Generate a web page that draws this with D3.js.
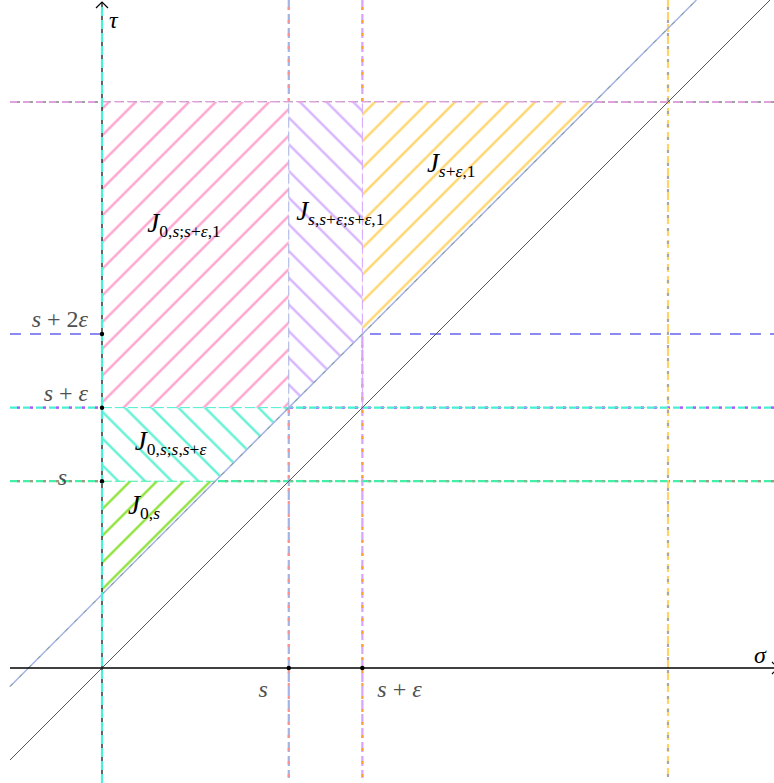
<!DOCTYPE html>
<html>
<head>
<meta charset="utf-8">
<script src="https://cdn.jsdelivr.net/npm/d3@7"></script>
<style>
html, body { margin: 0; padding: 0; background: #fff; }
svg { display: block; }
svg text { font-family: "Liberation Serif", "DejaVu Serif", serif; }
</style>
</head>
<body>
<div id="chart"></div>
<script>
// values (one unit on each axis)
const sValue = 0.33;
const epsValue = 0.13;

const xTickValues = [0.33, 0.46];
const xTickLabels = ["s", "s + ε"];
const yTickValues = [0.33, 0.46, 0.59];
const yTickLabels = ["s", "s + ε", "s + 2ε"];

const diagonalOffsets = [0, 0.13];           // tau = sigma + offset
const horizontalGuides = [0.33, 0.46, 0.59, 1];
const verticalGuides = [0, 0.33, 0.46, 1];

const regionNames = ["0,s", "0,s;s,s+ε", "0,s;s+ε,1", "s,s+ε;s+ε,1", "s+ε,1"];
const regionPolygons = [
  [[0, 0.13], [0, 0.33], [0.20, 0.33]],
  [[0, 0.33], [0, 0.46], [0.33, 0.46], [0.20, 0.33]],
  [[0, 0.46], [0, 1], [0.33, 1], [0.33, 0.46]],
  [[0.33, 0.46], [0.33, 1], [0.46, 1], [0.46, 0.59]],
  [[0.46, 0.59], [0.46, 1], [0.87, 1]]
];
const regionLabelAt = [[0.046, 0.272], [0.058, 0.385], [0.080, 0.770], [0.343, 0.792], [0.574, 0.876]];
const dotPoints = [[0, 0.33], [0, 0.46], [0, 0.59], [0.33, 0], [0.46, 0]];

// styling
const width = 774, height = 783;
const hatchColor = ["#84e028", "#55f0d0", "#ff9cca", "#d4aeff", "#ffd262"];
const hatchDir = [45, -45, 45, -45, 45];
const hatchPhase = [24, 11, 24, 11, 23];
const hGuideStyle = {
  0.33: { c: "#44f0a8", o: "#a09a80", dash: "10,3" },
  0.46: { c: "#48f0d4", o: "#c050ff", dash: "10,3" },
  0.59: { c: "#8a8af0", o: null, dash: "11,9", w: 2 },
  1: { c: "#e0a2dc", o: "#a0a0a0", dash: "9,4" }
};
const vGuideStyle = {
  0: { c: "#48f0d4", o: null, dash: "9,4" },
  0.33: { c: "#a4b2e4", o: "#ff9090", dash: "10,4" },
  0.46: { c: "#d4a4ff", o: "#ffa030", dash: "10,4" },
  1: { c: "#ffd466", o: "#a8a8a8", dash: "8,4" }
};

const x = d3.scaleLinear().domain([0, 1]).range([102, 668]);
const y = d3.scaleLinear().domain([0, 1]).range([668, 102]);
const sigmaMin = x.invert(10);
const tauMax = y.invert(0), tauMin = y.invert(778);

const svg = d3.select("#chart").append("svg")
  .attr("width", width).attr("height", height);

const defs = svg.append("defs");
const step = 26.7 / Math.SQRT2;
hatchColor.forEach((col, i) => {
  const p = defs.append("pattern")
    .attr("id", "hatch" + i)
    .attr("patternUnits", "userSpaceOnUse")
    .attr("width", step).attr("height", 10)
    .attr("x", hatchPhase[i] / Math.SQRT2 - step / 2)
    .attr("patternTransform", `rotate(${hatchDir[i]})`);
  p.append("line")
    .attr("x1", step / 2).attr("x2", step / 2)
    .attr("y1", -1).attr("y2", 11)
    .attr("stroke", col).attr("stroke-width", 2.2);
});

// helper for drawing a guide line with a coloured second dash on top
function guide(g, x1, y1, x2, y2, st, thin) {
  const w = thin ? 1 : (st.w || 2.2);
  g.append("line").attr("x1", x1).attr("y1", y1).attr("x2", x2).attr("y2", y2)
    .attr("stroke", st.c).attr("stroke-width", w).attr("stroke-dasharray", st.dash);
  if (st.o && !thin) {
    g.append("line").attr("x1", x1).attr("y1", y1).attr("x2", x2).attr("y2", y2)
      .attr("stroke", st.o).attr("stroke-width", w).attr("stroke-dasharray", "3,10")
      .attr("stroke-dashoffset", -7);
  }
}

const guides = svg.append("g");
horizontalGuides.forEach(t => guide(guides, x(sigmaMin), y(t), width, y(t), hGuideStyle[t]));
verticalGuides.filter(v => v !== 0)
  .forEach(v => guide(guides, x(v), 0, x(v), y(tauMin), vGuideStyle[v]));

// regions: white fill, hatch on top
const line = d3.line().x(d => x(d[0])).y(d => y(d[1]));
const regions = svg.append("g");
regionPolygons.forEach((poly, i) => {
  regions.append("path").attr("d", line(poly) + "Z").attr("fill", "#fff");
  regions.append("path").attr("d", line(poly) + "Z").attr("fill", `url(#hatch${i})`);
});

// thin guides through the regions (all but s+2eps)
const thinGuides = svg.append("g");
horizontalGuides.filter(t => t !== 0.59)
  .forEach(t => guide(thinGuides, x(0), y(t), x(1), y(t), hGuideStyle[t], true));
[0.33, 0.46].forEach(v => guide(thinGuides, x(v), y(0.46), x(v), y(1), vGuideStyle[v], true));

// diagonals
const diag = svg.append("g");
diagonalOffsets.forEach(c => {
  const d = [[sigmaMin, sigmaMin + c], [tauMax - c, tauMax]];
  if (c === 0) {
    diag.append("path").attr("d", line(d)).attr("stroke", "#555").attr("stroke-width", 1).attr("fill", "none");
  } else {
    diag.append("path").attr("d", line(d)).attr("stroke", "#a6b4e6").attr("stroke-width", 1.5).attr("fill", "none");
    diag.append("path").attr("d", line(d)).attr("stroke", "#7a9a7a").attr("stroke-width", 1)
      .attr("stroke-dasharray", "4,9").attr("fill", "none");
  }
});

// axes
const axes = svg.append("g");
axes.append("line").attr("x1", x(sigmaMin)).attr("x2", 778).attr("y1", y(0)).attr("y2", y(0))
  .attr("stroke", "#000").attr("stroke-width", 1.4);
axes.append("path").attr("d", `M772,${y(0) - 6} L778,${y(0)} L772,${y(0) + 6}`)
  .attr("stroke", "#000").attr("fill", "none").attr("stroke-width", 1.2);
axes.append("line").attr("x1", x(0)).attr("x2", x(0)).attr("y1", height).attr("y2", 2)
  .attr("stroke", "#222").attr("stroke-width", 1.4);
guide(axes, x(0), height, x(0), 6, vGuideStyle[0]);
axes.append("path").attr("d", `M${x(0) - 6},8 L${x(0)},2 L${x(0) + 6},8`)
  .attr("stroke", "#000").attr("fill", "none").attr("stroke-width", 1.2);

// dots
svg.append("g").selectAll("circle").data(dotPoints).join("circle")
  .attr("cx", d => x(d[0])).attr("cy", d => y(d[1])).attr("r", 2.2).attr("fill", "#000");

// math-ish text: letters italic, digits and signs upright
function mathText(sel, str, size, sub) {
  let first = true;
  for (const ch of str) {
    const ts = sel.append("tspan")
      .style("font-size", size + "px")
      .style("font-style", /[a-zA-Zε]/.test(ch) ? "italic" : "normal")
      .text(ch);
    if (first && sub) { ts.attr("dy", sub); first = false; }
  }
}

const labels = svg.append("g");

// tick labels on tau axis
yTickValues.forEach((t, i) => {
  const tx = labels.append("text").attr("fill", "#505050")
    .attr("text-anchor", "end").attr("xml:space", "preserve")
    .attr("x", i === 0 ? 67 : 88).attr("y", i === 0 ? y(t) + 4 : y(t) - 7);
  mathText(tx, yTickLabels[i], 24);
});
// tick labels on sigma axis
xTickValues.forEach((v, i) => {
  const tx = labels.append("text").attr("fill", "#505050")
    .attr("text-anchor", i === 0 ? "end" : "start").attr("xml:space", "preserve")
    .attr("x", i === 0 ? x(v) - 21 : x(v) + 15).attr("y", y(0) + 29);
  mathText(tx, xTickLabels[i], 24);
});

// axis names
labels.append("text").attr("x", 109).attr("y", 28).style("font-style", "italic")
  .style("font-size", "24px").text("τ");
labels.append("text").attr("x", 754).attr("y", 663).style("font-style", "italic")
  .style("font-size", "24px").text("σ");

// region names J_{...}
regionNames.forEach((name, i) => {
  const [sx, sy] = regionLabelAt[i];
  const tx = labels.append("text").attr("x", x(sx)).attr("y", y(sy)).attr("fill", "#000");
  tx.append("tspan").style("font-style", "italic").style("font-size", "27px").text("J");
  mathText(tx, name, 17.5, 5);
});
</script>
</body>
</html>
